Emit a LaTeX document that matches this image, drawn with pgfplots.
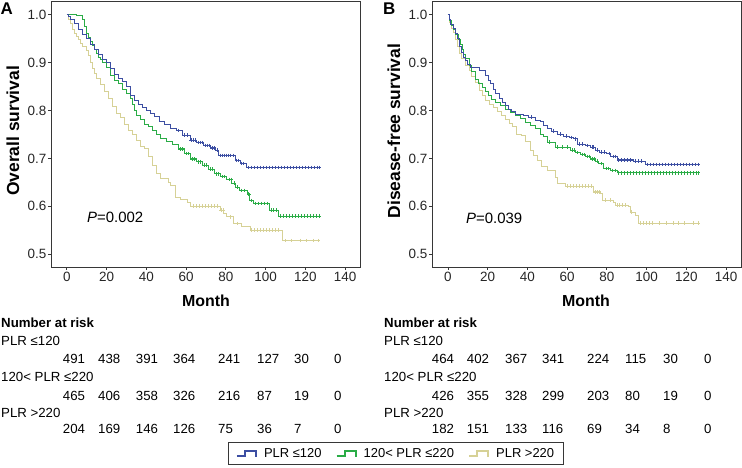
\documentclass[border=0pt]{standalone}
\usepackage{fontspec}
\setmainfont{Liberation Sans}
\usepackage{pgfplots}
\pgfplotsset{compat=1.18}
\definecolor{cblue}{RGB}{60,78,162}
\definecolor{cgreen}{RGB}{42,172,70}
\definecolor{cyel}{RGB}{214,209,150}
\definecolor{frame}{RGB}{55,55,55}
\pgfplotsset{
  km/.style={
    scale only axis, width=309bp, height=266bp,
    xmin=-8, xmax=147.5, ymin=0.473, ymax=1.029,
    xtick={0,20,40,60,80,100,120,140},
    ytick={0.5,0.6,0.7,0.8,0.9,1.0},
    yticklabel style={/pgf/number format/.cd, fixed, fixed zerofill, precision=1},
    tick align=outside, xtick pos=bottom, ytick pos=left,
    major tick length=3bp,
    axis line style={frame, line width=0.9bp},
    tick style={frame, line width=0.8bp},
    /pgf/number format/assume math mode=true,
    tick label style={font=\fontsize{13.5}{15}\selectfont, inner sep=1.5bp, text=black!85},
  },
  step/.style={const plot, line width=0.8bp, forget plot},
  cens/.style={only marks, mark=+, mark size=1.8bp, line width=0.6bp, forget plot},
}
\begin{document}
\begin{tikzpicture}
\useasboundingbox (0,0) rectangle (742bp,468bp);
% ---------------- Panel A ----------------
\begin{axis}[km, at={(51bp,201bp)}, anchor=south west,
  legend columns=3,
  legend style={at={(1.1165,-0.7011)}, anchor=center, draw=frame, line width=0.8bp,
    font=\fontsize{13}{15}\selectfont, inner xsep=7bp, inner ysep=3.5bp,
    /tikz/every odd column/.append style={column sep=5bp},
    /tikz/every even column/.append style={column sep=12bp}},
  legend image code/.code={\draw[#1, line width=2.2bp] (0bp,-2.5bp) -- (8bp,-2.5bp) -- (8bp,2.5bp) -- (19bp,2.5bp) -- (19bp,-3.5bp);},
]
\addlegendimage{cblue}\addlegendentry{PLR ≤120}
\addlegendimage{cgreen}\addlegendentry{120< PLR ≤220}
\addlegendimage{cyel}\addlegendentry{PLR >220}
\addplot[step, cyel] coordinates {(0,1.0)(1,0.99)(2,0.982)(3,0.97)(4,0.962)(5,0.955)(6,0.948)(7,0.94)(8,0.935)(10,0.926)(11,0.915)(12,0.9)(13,0.888)(14,0.877)(15,0.868)(17,0.855)(19,0.84)(21,0.825)(23,0.808)(25,0.795)(27,0.786)(29,0.772)(31,0.758)(33,0.75)(35,0.738)(37,0.726)(39,0.72)(41,0.705)(43,0.686)(45,0.668)(47,0.658)(51,0.65)(52,0.644)(54.5,0.619)(57,0.614)(60.4,0.609)(62,0.6)(77,0.592)(79,0.585)(80.5,0.578)(83.8,0.564)(88,0.558)(92.2,0.55)(108.2,0.528)(127,0.528)};
\addplot[cens, cyel] coordinates {(63.5,0.6)(65,0.6)(66.5,0.6)(68,0.6)(69.5,0.6)(71,0.6)(72.5,0.6)(74,0.6)(75.5,0.6)(77.5,0.592)(78.5,0.592)(82,0.578)(86,0.564)(93,0.55)(94.5,0.55)(96,0.55)(97.5,0.55)(99,0.55)(100.5,0.55)(102,0.55)(103.5,0.55)(105,0.55)(106.5,0.55)(109.8,0.528)(113.1,0.528)(117.4,0.528)(120.7,0.528)(124,0.528)(126.6,0.528)};
\addplot[step, cgreen] coordinates {(0,1.0)(5,0.998)(8,0.99)(9,0.975)(10,0.962)(11,0.952)(12,0.944)(13,0.936)(14,0.928)(15,0.92)(16,0.912)(17,0.906)(18,0.9)(20,0.89)(22,0.874)(24,0.862)(26,0.856)(28,0.845)(30,0.836)(32,0.825)(33,0.812)(34,0.8)(35,0.79)(37,0.782)(39,0.772)(41,0.766)(43,0.759)(45,0.751)(47,0.742)(50,0.736)(53,0.73)(56,0.72)(59,0.71)(62,0.699)(65,0.693)(68,0.686)(71,0.678)(74,0.668)(77,0.662)(80.5,0.656)(83,0.648)(85,0.64)(87,0.633)(91,0.626)(92,0.612)(94,0.606)(102,0.592)(106.5,0.579)(127,0.579)};
\addplot[cens, cgreen] coordinates {(57,0.72)(58,0.72)(60,0.71)(61,0.71)(63,0.699)(64,0.699)(66,0.693)(67,0.693)(69,0.686)(70,0.686)(72,0.678)(73,0.678)(75,0.668)(76,0.668)(78,0.662)(79,0.662)(81.5,0.656)(82.5,0.656)(84,0.648)(86,0.64)(88,0.633)(89.5,0.633)(91.5,0.626)(93,0.612)(95,0.606)(96.5,0.606)(98,0.606)(99.5,0.606)(101,0.606)(103,0.592)(104,0.592)(105.5,0.592)(107.5,0.579)(109,0.579)(110.5,0.579)(112,0.579)(113.5,0.579)(115,0.579)(116.5,0.579)(118,0.579)(119.5,0.579)(121,0.579)(122.5,0.579)(124,0.579)(125.5,0.579)(127,0.579)};
\addplot[step, cblue] coordinates {(0,1.0)(1,0.997)(2,0.99)(4,0.982)(6,0.97)(8,0.96)(10,0.95)(12,0.938)(14,0.928)(16,0.917)(18,0.907)(20,0.9)(22,0.888)(24,0.876)(26,0.868)(28,0.86)(30,0.85)(32,0.832)(34,0.822)(36,0.812)(38,0.806)(40,0.8)(42,0.795)(44,0.787)(46.5,0.778)(49,0.771)(52,0.763)(55,0.758)(58,0.749)(62,0.738)(65,0.733)(68.7,0.727)(72,0.722)(74.6,0.717)(76.3,0.706)(84.7,0.696)(87.2,0.689)(90.5,0.681)(127,0.681)};
\addplot[cens, cblue] coordinates {(56,0.758)(59,0.749)(60.5,0.749)(62.5,0.738)(63.5,0.738)(64.5,0.738)(66,0.733)(67,0.733)(68,0.733)(69.5,0.727)(70.5,0.727)(71.5,0.727)(73,0.722)(74,0.722)(75.5,0.717)(77,0.706)(78,0.706)(79,0.706)(80,0.706)(81,0.706)(82,0.706)(83.5,0.706)(85.5,0.696)(86.5,0.696)(88,0.689)(89,0.689)(91.5,0.681)(93,0.681)(94.5,0.681)(96,0.681)(97.5,0.681)(99,0.681)(100.5,0.681)(102,0.681)(103.5,0.681)(105,0.681)(106.5,0.681)(108,0.681)(109.5,0.681)(111,0.681)(112.5,0.681)(114,0.681)(115.5,0.681)(117,0.681)(118.5,0.681)(120,0.681)(121.5,0.681)(123,0.681)(124.5,0.681)(126,0.681)(127,0.681)};
\end{axis}
% ---------------- Panel B ----------------
\begin{axis}[km, at={(432bp,201bp)}, anchor=south west]
\addplot[step, cyel] coordinates {(0,1.0)(1,0.985)(2,0.972)(3,0.963)(4,0.948)(5,0.935)(6,0.92)(7,0.908)(9,0.895)(10.6,0.883)(12,0.872)(14,0.859)(16,0.842)(17.5,0.831)(19,0.822)(21,0.812)(23,0.806)(25,0.798)(27,0.79)(29,0.782)(31,0.774)(32.5,0.766)(34.5,0.751)(37,0.748)(39,0.735)(41.5,0.717)(43,0.706)(45,0.695)(47,0.683)(50,0.675)(54,0.661)(55,0.647)(59,0.642)(73.4,0.63)(76.7,0.626)(77.6,0.6125)(83.4,0.609)(84.3,0.602)(91,0.599)(91.8,0.588)(94.3,0.581)(96,0.565)(126,0.565)};
\addplot[cens, cyel] coordinates {(60,0.642)(61.5,0.642)(63,0.642)(64.5,0.642)(66,0.642)(67.5,0.642)(69,0.642)(70.5,0.642)(72,0.642)(74,0.63)(75,0.63)(76,0.63)(79,0.6125)(81.5,0.6125)(85,0.602)(86.5,0.602)(88,0.602)(89.5,0.602)(92.5,0.588)(97,0.565)(98.5,0.565)(100,0.565)(101.5,0.565)(103,0.565)(106.6,0.565)(109.9,0.565)(113.3,0.565)(115.8,0.565)(119.1,0.565)(123.3,0.565)(126.1,0.565)};
\addplot[step, cgreen] coordinates {(0,1.0)(1,0.988)(2,0.978)(3,0.97)(4,0.96)(5.5,0.949)(6.5,0.938)(7.2,0.928)(8,0.918)(8.9,0.908)(10.6,0.894)(12,0.882)(13.9,0.866)(15.5,0.857)(17.3,0.849)(19,0.84)(20.6,0.831)(22,0.824)(24,0.817)(26.5,0.81)(29,0.803)(31.5,0.796)(34,0.79)(36.5,0.783)(39,0.776)(41.5,0.769)(44,0.762)(46.6,0.751)(48.2,0.745)(50,0.734)(54.1,0.724)(61.7,0.717)(64,0.712)(66.7,0.708)(69,0.704)(71.7,0.699)(74,0.694)(75.9,0.689)(78.4,0.679)(81.8,0.675)(85.1,0.67)(126,0.67)};
\addplot[cens, cgreen] coordinates {(51,0.734)(55,0.724)(57.5,0.724)(60,0.724)(62.5,0.717)(63.5,0.717)(65,0.712)(67.5,0.708)(68.5,0.708)(70,0.704)(71,0.704)(72.5,0.699)(73.5,0.699)(75,0.694)(77,0.689)(79.5,0.679)(80.5,0.679)(82.5,0.675)(84,0.675)(86,0.67)(87.5,0.67)(89,0.67)(90.5,0.67)(92,0.67)(93.5,0.67)(95,0.67)(96.5,0.67)(98,0.67)(99.5,0.67)(101,0.67)(102.5,0.67)(104,0.67)(105.5,0.67)(107,0.67)(108.5,0.67)(110,0.67)(111.5,0.67)(113,0.67)(114.5,0.67)(116,0.67)(117.5,0.67)(119,0.67)(120.5,0.67)(122,0.67)(123.5,0.67)(125,0.67)(126,0.67)};
\addplot[step, cblue] coordinates {(0,1.0)(1,0.99)(1.5,0.98)(3,0.972)(4,0.962)(5,0.95)(6,0.935)(7,0.922)(8,0.912)(9,0.904)(10,0.896)(11.4,0.89)(15.6,0.883)(18.9,0.873)(20.5,0.863)(21.5,0.856)(23,0.845)(24,0.835)(26,0.826)(27.3,0.817)(29,0.81)(30.6,0.803)(32,0.798)(34,0.793)(38,0.789)(40.7,0.786)(44,0.779)(46.6,0.777)(48.2,0.769)(50,0.762)(52,0.757)(55,0.751)(58,0.747)(61,0.744)(63.3,0.741)(65,0.73)(69,0.727)(71.7,0.724)(74,0.717)(76,0.713)(80,0.71)(82,0.704)(85.1,0.697)(93.5,0.694)(99.3,0.6875)(126,0.6875)};
\addplot[cens, cblue] coordinates {(42,0.786)(53,0.757)(56.5,0.751)(59.5,0.747)(62,0.744)(64,0.741)(66,0.73)(67.5,0.73)(70,0.727)(72.5,0.724)(73.3,0.724)(75,0.717)(77,0.713)(78.5,0.713)(81,0.71)(83,0.704)(84,0.704)(86,0.697)(87.5,0.697)(89,0.697)(90.5,0.697)(92,0.697)(94.5,0.694)(96,0.694)(97.5,0.694)(100.5,0.6875)(102,0.6875)(103.5,0.6875)(105,0.6875)(106.5,0.6875)(108,0.6875)(109.5,0.6875)(111,0.6875)(112.5,0.6875)(114,0.6875)(115.5,0.6875)(117,0.6875)(118.5,0.6875)(120,0.6875)(121.5,0.6875)(123,0.6875)(124.5,0.6875)(126,0.6875)};
\end{axis}
% ---------------- Texts ----------------
\begin{scope}[x=1bp, y=-1bp, yshift=468bp]
\node[font=\bfseries\fontsize{17}{17}\selectfont, anchor=north west, inner sep=0] at (0.5,3) {A};
\node[font=\bfseries\fontsize{17}{17}\selectfont, anchor=north west, inner sep=0] at (383,3) {B};
\node[font=\bfseries\fontsize{17.5}{17.5}\selectfont, rotate=90, inner sep=0] at (13,131) {Overall survival};
\node[font=\bfseries\fontsize{17.5}{17.5}\selectfont, rotate=90, inner sep=0] at (394,131) {Disease-free survival};
\node[font=\bfseries\fontsize{16}{16}\selectfont, inner sep=0] at (206,301) {Month};
\node[font=\bfseries\fontsize{16}{16}\selectfont, inner sep=0] at (586,301) {Month};
\node[font=\fontsize{15}{15}\selectfont, anchor=west, inner sep=0] at (87,217) {\textit{P}=0.002};
\node[font=\fontsize{15}{15}\selectfont, anchor=west, inner sep=0] at (466,218) {\textit{P}=0.039};
\begin{scope}[every node/.style={font=\fontsize{13.3}{15}\selectfont, anchor=west, inner sep=0}]
\foreach \ox in {0,383} {
  \node[font=\bfseries\fontsize{13.3}{15}\selectfont] at (\ox+1,323) {Number at risk};
  \node at (\ox+1,341) {PLR ≤120};
  \node at (\ox+1,377) {120< PLR ≤220};
  \node at (\ox+1,413) {PLR >220};
}
\foreach \xx/\v in {62.7/491,98/438,135.7/391,173/364,218/241,257/127,294/30,334/0} \node at (\xx,359) {\v};
\foreach \xx/\v in {62.7/465,98/406,135.7/358,173/326,218/216,257/87,294/19,334/0} \node at (\xx,396) {\v};
\foreach \xx/\v in {62.7/204,98/169,135.7/146,173/126,218/75,257/36,294/7,334/0} \node at (\xx,429) {\v};
\foreach \xx/\v in {431.7/464,466.7/402,505/367,542/341,587/224,625/115,663/30,704/0} \node at (\xx,359) {\v};
\foreach \xx/\v in {431.7/426,466.7/355,505/328,542/299,587/203,625/80,663/19,704/0} \node at (\xx,396) {\v};
\foreach \xx/\v in {431.7/182,466.7/151,505/133,542/116,587/69,625/34,663/8,704/0} \node at (\xx,429) {\v};
\end{scope}
\end{scope}
\end{tikzpicture}
\end{document}
